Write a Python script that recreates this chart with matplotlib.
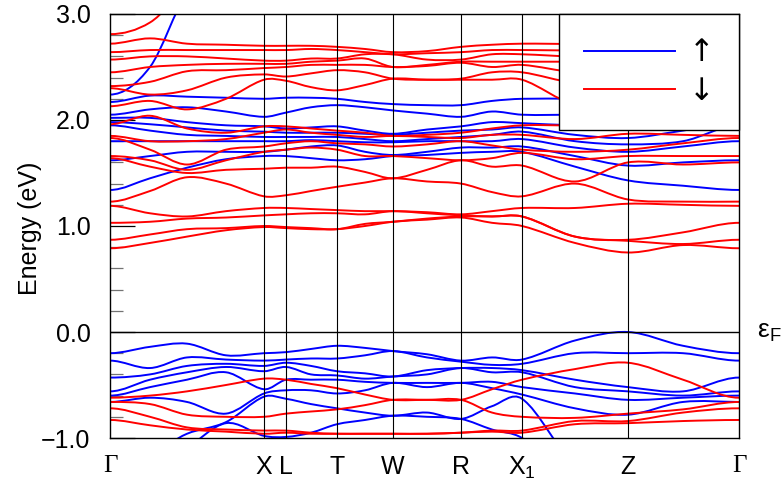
import numpy as np
import matplotlib
matplotlib.use("Agg")
import matplotlib.pyplot as plt
from matplotlib.path import Path
from matplotlib.patches import PathPatch
from matplotlib.lines import Line2D
from matplotlib.ticker import MultipleLocator

plt.rcParams["font.family"] = ["Liberation Sans", "DejaVu Sans"]
plt.rcParams["mathtext.default"] = "regular"

# k-path sampling (path length units) and high-symmetry points
k_path = [0, 40, 77, 116, 154, 176, 201, 227, 255, 283, 317, 351, 382, 412, 465, 518, 573, 629]
hs_k = [0, 154, 176, 227, 283, 351, 412, 518, 629]
hs_labels = ["Γ", "X", "L", "T", "W", "R", "$X_1$", "Z", "Γ"]

# spin-up conduction bands: energies (eV) at each k_path sample
up_cb = [
    [1.34, 1.62, 1.80, 1.95, 1.98, 2.02, 2.05, 2.17, 2.24],
    [1.45, 1.66, 1.80, 1.90, 1.96, 2.02, 2.10, 2.23, 2.50],
    [1.55, 1.70, 1.80, 1.86, 1.93, 1.98, 2.12, 2.22, 3.20],
    [1.63, 1.70, 1.80, 1.85, 1.90, 1.95, 2.08, 2.21, 3.50],
    [1.66, 1.70, 1.80, 1.84, 1.89, 1.94, 2.03, 2.20, 3.80],
    [1.66, 1.72, 1.80, 1.84, 1.88, 1.92, 2.07, 2.21, 3.90],
    [1.64, 1.75, 1.81, 1.84, 1.88, 1.93, 2.12, 2.21, 4.00],
    [1.62, 1.76, 1.80, 1.84, 1.88, 1.94, 2.14, 2.20, 4.00],
    [1.63, 1.70, 1.79, 1.82, 1.87, 1.90, 2.12, 2.17, 4.00],
    [1.66, 1.67, 1.79, 1.80, 1.86, 1.87, 2.09, 2.15, 4.00],
    [1.67, 1.70, 1.80, 1.82, 1.88, 1.91, 2.06, 2.14, 4.00],
    [1.69, 1.74, 1.80, 1.84, 1.90, 1.94, 2.03, 2.14, 4.00],
    [1.70, 1.74, 1.80, 1.86, 1.91, 1.98, 2.08, 2.18, 4.00],
    [1.70, 1.75, 1.82, 1.89, 1.93, 1.97, 2.05, 2.20, 4.00],
    [1.56, 1.66, 1.74, 1.80, 1.86, 1.95, 2.05, 2.20, 4.00],
    [1.43, 1.57, 1.70, 1.77, 1.83, 1.95, 2.05, 2.20, 4.00],
    [1.38, 1.60, 1.75, 1.80, 1.90, 1.98, 2.05, 2.20, 3.40],
    [1.34, 1.62, 1.80, 1.95, 1.98, 2.02, 2.05, 2.17, 2.24],
]

# spin-down conduction bands
dn_cb = [
    [0.79, 0.87, 1.03, 1.19, 1.23, 1.64, 1.66, 1.83, 1.85, 1.96, 2.13, 2.30, 2.32, 2.45, 2.57, 2.64, 2.72, 2.81],
    [0.84, 0.92, 1.04, 1.12, 1.33, 1.56, 1.62, 1.72, 1.80, 2.04, 2.18, 2.24, 2.36, 2.50, 2.60, 2.66, 2.77, 2.92],
    [0.90, 0.97, 1.07, 1.09, 1.46, 1.50, 1.53, 1.58, 1.80, 1.92, 2.10, 2.28, 2.46, 2.52, 2.60, 2.66, 2.72, 3.25],
    [0.96, 0.98, 1.08, 1.14, 1.40, 1.53, 1.62, 1.72, 1.82, 1.88, 2.20, 2.40, 2.47, 2.53, 2.58, 2.66, 2.71, 3.50],
    [0.99, 1.00, 1.10, 1.17, 1.28, 1.54, 1.70, 1.75, 1.88, 1.94, 2.38, 2.43, 2.49, 2.53, 2.56, 2.66, 2.70, 3.80],
    [0.98, 0.99, 1.11, 1.17, 1.29, 1.55, 1.72, 1.78, 1.91, 1.94, 2.37, 2.41, 2.50, 2.53, 2.56, 2.66, 2.70, 3.90],
    [0.97, 0.98, 1.12, 1.16, 1.33, 1.55, 1.74, 1.80, 1.88, 1.92, 2.31, 2.44, 2.52, 2.55, 2.58, 2.67, 2.70, 4.00],
    [0.97, 0.97, 1.12, 1.15, 1.37, 1.56, 1.72, 1.78, 1.86, 1.90, 2.28, 2.47, 2.52, 2.56, 2.58, 2.66, 2.69, 4.00],
    [1.00, 1.02, 1.11, 1.14, 1.41, 1.51, 1.66, 1.77, 1.84, 1.88, 2.33, 2.45, 2.52, 2.58, 2.62, 2.64, 2.67, 4.00],
    [1.04, 1.04, 1.14, 1.14, 1.45, 1.45, 1.66, 1.75, 1.85, 1.85, 2.39, 2.39, 2.50, 2.50, 2.62, 2.62, 2.64, 4.00],
    [1.06, 1.07, 1.12, 1.13, 1.42, 1.53, 1.64, 1.77, 1.84, 1.86, 2.38, 2.38, 2.51, 2.52, 2.57, 2.63, 2.65, 4.00],
    [1.08, 1.09, 1.10, 1.11, 1.40, 1.62, 1.62, 1.80, 1.83, 1.88, 2.38, 2.39, 2.54, 2.55, 2.57, 2.64, 2.69, 4.00],
    [1.03, 1.09, 1.09, 1.14, 1.32, 1.56, 1.64, 1.76, 1.86, 1.92, 2.38, 2.45, 2.50, 2.55, 2.62, 2.66, 2.71, 4.00],
    [1.00, 1.09, 1.09, 1.17, 1.28, 1.57, 1.69, 1.72, 1.86, 1.95, 2.38, 2.45, 2.52, 2.55, 2.62, 2.66, 2.72, 4.00],
    [0.84, 0.90, 0.90, 1.17, 1.40, 1.42, 1.63, 1.70, 1.82, 1.95, 2.15, 2.35, 2.45, 2.55, 2.60, 2.66, 2.72, 4.00],
    [0.75, 0.86, 0.87, 1.21, 1.25, 1.60, 1.66, 1.72, 1.87, 1.97, 2.20, 2.35, 2.45, 2.55, 2.62, 2.70, 2.75, 4.00],
    [0.82, 0.83, 0.94, 1.20, 1.23, 1.58, 1.66, 1.78, 1.86, 1.97, 2.15, 2.32, 2.45, 2.56, 2.62, 2.68, 2.76, 3.40],
    [0.79, 0.87, 1.03, 1.19, 1.23, 1.60, 1.66, 1.83, 1.85, 1.96, 2.13, 2.30, 2.32, 2.45, 2.57, 2.64, 2.72, 2.81],
]

# spin-up valence bands
up_vb = [
    [-1.40, -1.20, -0.66, -0.60, -0.56, -0.43, -0.27, -0.20],
    [-1.35, -1.15, -0.62, -0.52, -0.45, -0.40, -0.34, -0.14],
    [-1.10, -0.96, -0.66, -0.45, -0.38, -0.32, -0.24, -0.11],
    [-0.86, -0.85, -0.77, -0.38, -0.33, -0.30, -0.26, -0.22],
    [-0.98, -0.61, -0.58, -0.54, -0.37, -0.32, -0.27, -0.20],
    [-0.99, -0.63, -0.55, -0.45, -0.33, -0.29, -0.26, -0.19],
    [-0.95, -0.68, -0.55, -0.45, -0.40, -0.32, -0.25, -0.16],
    [-0.87, -0.72, -0.58, -0.45, -0.41, -0.37, -0.25, -0.13],
    [-0.83, -0.76, -0.55, -0.47, -0.44, -0.39, -0.22, -0.15],
    [-0.79, -0.79, -0.48, -0.48, -0.42, -0.42, -0.18, -0.18],
    [-0.80, -0.76, -0.52, -0.48, -0.40, -0.36, -0.24, -0.21],
    [-0.82, -0.82, -0.48, -0.48, -0.34, -0.34, -0.28, -0.27],
    [-0.92, -0.70, -0.53, -0.47, -0.38, -0.34, -0.31, -0.24],
    [-1.00, -0.63, -0.59, -0.52, -0.38, -0.36, -0.30, -0.26],
    [-1.40, -1.25, -0.72, -0.58, -0.52, -0.45, -0.20, -0.08],
    [-1.60, -1.40, -0.78, -0.64, -0.56, -0.52, -0.20, 0.00],
    [-1.50, -1.30, -0.66, -0.62, -0.60, -0.56, -0.20, -0.13],
    [-1.40, -1.20, -0.66, -0.60, -0.56, -0.43, -0.27, -0.20],
]

# spin-down valence bands
dn_vb = [
    [-0.83, -0.72, -0.66, -0.62],
    [-0.88, -0.80, -0.68, -0.60],
    [-0.92, -0.90, -0.78, -0.56],
    [-0.94, -0.92, -0.80, -0.50],
    [-0.96, -0.93, -0.80, -0.44],
    [-0.95, -0.93, -0.77, -0.45],
    [-0.96, -0.95, -0.75, -0.49],
    [-0.96, -0.96, -0.73, -0.53],
    [-0.96, -0.96, -0.69, -0.59],
    [-0.96, -0.96, -0.64, -0.64],
    [-0.96, -0.96, -0.64, -0.64],
    [-0.95, -0.95, -0.64, -0.64],
    [-0.94, -0.93, -0.76, -0.54],
    [-0.95, -0.93, -0.80, -0.45],
    [-0.87, -0.84, -0.81, -0.35],
    [-0.86, -0.84, -0.77, -0.29],
    [-0.84, -0.76, -0.73, -0.45],
    [-0.83, -0.72, -0.66, -0.62],
]

y_ticks = [-1.0, 0.0, 1.0, 2.0, 3.0]
y_ticklabels = ["\u22121.0", "0.0", "1.0", "2.0", "3.0"]
spin_labels = ["\u2191", "\u2193"]
UP_COLOR = "#0000ff"
DN_COLOR = "#ff0000"
BAND_LW = 1.4


def band_path(x, y):
    """Smooth cubic Bezier path through the sampled band energies."""
    x = np.asarray(x, float)
    y = np.asarray(y, float)
    m = np.zeros_like(y)
    m[1:-1] = (y[2:] - y[:-2]) / (x[2:] - x[:-2])
    verts = [(x[0], y[0])]
    codes = [Path.MOVETO]
    for i in range(len(x) - 1):
        h = x[i + 1] - x[i]
        verts += [(x[i] + h / 3, y[i] + m[i] * h / 3),
                  (x[i + 1] - h / 3, y[i + 1] - m[i + 1] * h / 3),
                  (x[i + 1], y[i + 1])]
        codes += [Path.CURVE4] * 3
    return Path(verts, codes)


def draw_bands(ax, table, color):
    for band in np.asarray(table, float).T:
        ax.add_patch(PathPatch(band_path(k_path, band), facecolor="none",
                               edgecolor=color, lw=BAND_LW, zorder=2))


fig = plt.figure(figsize=(7.84, 4.91), dpi=100)
ax = fig.add_axes([110 / 784, 1 - 438 / 491, 629 / 784, 424 / 491])

draw_bands(ax, up_cb, UP_COLOR)
draw_bands(ax, up_vb, UP_COLOR)
draw_bands(ax, dn_cb, DN_COLOR)
draw_bands(ax, dn_vb, DN_COLOR)

for k in hs_k[1:-1]:
    ax.axvline(k, color="black", lw=0.8, zorder=3)
ax.axhline(0.0, color="black", lw=1.0, zorder=3)

ax.set_xlim(hs_k[0], hs_k[-1])
ax.set_ylim(-1.0, 3.0)

ax.set_yticks(y_ticks)
ax.set_yticklabels(y_ticklabels)
ax.yaxis.set_minor_locator(MultipleLocator(0.2))
ax.tick_params(axis="y", which="major", direction="in", length=18, width=0.9,
               labelsize=18, pad=14)
ax.tick_params(axis="y", which="minor", direction="in", length=9, width=0.9,
               color="0.45")

ax.set_xticks(hs_k)
ax.set_xticklabels(hs_labels)
ax.tick_params(axis="x", length=0, labelsize=18, pad=12)
for lab in ax.get_xticklabels():
    if lab.get_text() == "Γ":
        lab.set_fontfamily(["Liberation Serif", "DejaVu Serif"])

for sp in ax.spines.values():
    sp.set_linewidth(1.0)

ax.set_ylabel("Energy (eV)", fontsize=18)
ax.yaxis.set_label_coords(-0.108, 0.495)

ax.text(1.029, 0.0, "ε$_F$", transform=ax.get_yaxis_transform(),
        fontsize=19, ha="left", va="center")

handles = [Line2D([], [], color=UP_COLOR, lw=BAND_LW),
           Line2D([], [], color=DN_COLOR, lw=BAND_LW)]
leg = ax.legend(handles, spin_labels, loc="upper right",
                prop={"family": "DejaVu Sans", "size": 22},
                frameon=True, fancybox=False, edgecolor="black", framealpha=1,
                borderaxespad=0, borderpad=0.8, labelspacing=0.3,
                handlelength=3.0, handletextpad=0.45)
leg.get_frame().set_linewidth(1.0)

fig.savefig("out.png", dpi=100)
